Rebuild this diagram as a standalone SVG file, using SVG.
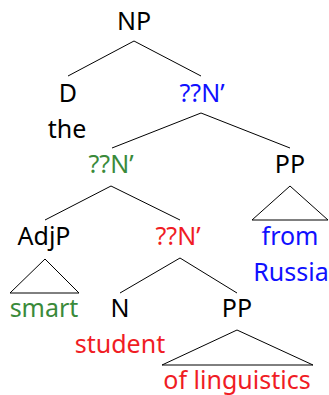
<svg xmlns="http://www.w3.org/2000/svg" width="329" height="395" viewBox="0 0 329 395">
  <style>
    text { font-family: "Noto Sans", "DejaVu Sans", sans-serif; font-size: 25px; text-anchor: middle; fill: #000; }
    .blue { fill: #1010ff; }
    .green { fill: #3a8a3a; }
    .red { fill: #f01c24; }
    .edge { stroke: #000; stroke-width: 1; fill: none; }
  </style>
  <rect width="329" height="395" fill="#fff"/>

  <!-- branches and roof triangles -->
  <g id="connectors">
    <polyline class="edge" points="68,76 134,41 201,76"/>
    <polyline class="edge" points="112,148 201,113 290,148"/>
    <polyline class="edge" points="45,220 111,186 180,220"/>
    <polygon class="edge" points="290,186 252,220 328,220"/>
    <polygon class="edge" points="45,259 10,293 79,293"/>
    <polyline class="edge" points="120,293 180,258 237,293"/>
    <polygon class="edge" points="237,330 162,365 313,365"/>
  </g>

  <g id="np"><text x="134" y="30">NP</text></g>
  <g id="d"><text x="68" y="102">D</text><text x="67" y="138">the</text></g>
  <g id="nbar1"><text class="blue" x="202" y="102">??N’</text></g>
  <g id="nbar2"><text class="green" x="111" y="173">??N’</text></g>
  <g id="pp1"><text x="290" y="173">PP</text><text class="blue" x="290" y="245">from</text><text class="blue" x="291" y="281">Russia</text></g>
  <g id="adjp"><text x="44" y="245">AdjP</text><text class="green" x="44" y="317">smart</text></g>
  <g id="nbar3"><text class="red" x="178" y="245">??N’</text></g>
  <g id="n"><text x="120" y="317">N</text><text class="red" x="120" y="353">student</text></g>
  <g id="pp2"><text x="237" y="317">PP</text><text class="red" x="237" y="389">of linguistics</text></g>
</svg>
